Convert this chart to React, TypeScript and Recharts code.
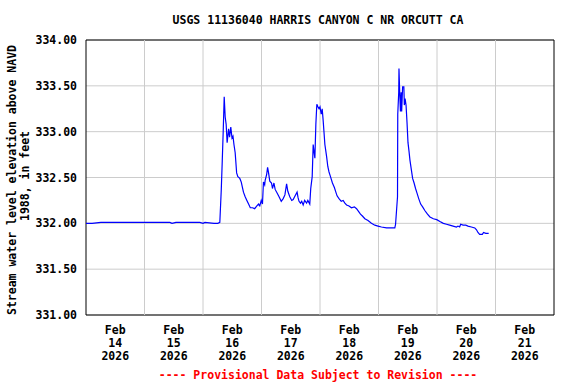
import React from 'react';
import { LineChart, Line, XAxis, YAxis, CartesianGrid, ReferenceLine, ReferenceArea } from 'recharts';

// hours since 2026-02-14 00:00
const hours = [
  0, 2.5, 6.1, 34.4, 35.3, 36.9, 46.7, 48.0, 48.8, 52.5, 54.1, 54.9,
  55.5, 55.9, 56.3, 56.7, 57.1, 57.5, 57.9, 58.5, 58.9, 59.4, 59.9, 60.3, 60.7, 61.2, 61.8, 62.3,
  63.1, 63.7, 64.1, 64.6, 65.3, 66.0, 66.7, 67.4, 68.3, 69.2, 70.1, 70.8, 71.3, 71.9, 72.4, 72.8,
  73.3, 73.5, 74.1, 74.5, 74.9, 75.4, 76.1, 76.5, 77.1, 77.6, 78.4, 79.2, 80.1, 80.9, 81.6, 82.3,
  82.8, 83.6, 84.4, 85.0, 85.8, 86.6, 87.0, 87.4, 88.0, 88.5, 89.1, 89.7, 90.5, 91.0, 91.8, 92.2,
  92.8, 93.2, 93.6, 93.9, 94.3, 94.7, 95.2, 95.6, 96.0, 96.5, 96.9, 97.3, 97.6, 98.0, 98.7, 99.2,
  99.7, 100.3, 101.1, 101.9, 102.5, 103.0, 103.8, 104.7, 105.5, 106.2, 106.9, 107.9, 108.9, 110.1,
  111.0, 111.8, 112.6, 113.4, 114.4, 115.7, 117.1, 118.5, 119.8, 121.2, 123.3, 124.6, 126.7, 127.0,
  127.4, 127.8, 127.9, 128.3, 128.4, 128.7, 129.0, 129.3, 129.5, 129.9, 130.4, 130.6, 130.9, 131.3,
  131.7, 132.1, 132.5, 132.9, 133.5, 134.0, 134.6, 135.2, 135.8, 136.5, 137.3, 138.1, 139.0, 140.1,
  141.1, 142.5, 143.9, 145.2, 146.6, 147.9, 149.2, 150.6, 152.0, 152.6, 153.3, 153.7, 154.7, 155.8,
  156.7, 158.1, 159.5, 160.2, 160.8, 161.5, 162.6, 163.1, 164.0, 165.2,
];

// stream water level elevation, ft NAVD 1988
const stage = [
  332.0, 332.0, 332.01, 332.01, 332.0, 332.01, 332.01, 332.0, 332.01, 332.0, 332.0, 332.01,
  332.37, 332.68, 333.01, 333.38, 333.16, 333.08, 332.88, 333.03, 332.94, 333.05, 332.93, 332.95, 332.86, 332.77, 332.55, 332.51,
  332.49, 332.45, 332.4, 332.34, 332.29, 332.25, 332.21, 332.17, 332.17, 332.16, 332.19, 332.21, 332.19, 332.25, 332.21, 332.45,
  332.42, 332.47, 332.53, 332.61, 332.55, 332.46, 332.44, 332.38, 332.44, 332.37, 332.33, 332.29, 332.24, 332.27, 332.31, 332.43,
  332.35, 332.29, 332.25, 332.26, 332.3, 332.34, 332.28, 332.24, 332.22, 332.24, 332.2, 332.25, 332.22, 332.25, 332.21, 332.38,
  332.51, 332.86, 332.77, 332.71, 333.08, 333.3, 333.27, 333.25, 333.27, 333.19, 333.25, 333.12, 333.01, 332.86, 332.73, 332.62,
  332.56, 332.51, 332.44, 332.39, 332.34, 332.3, 332.27, 332.24, 332.25, 332.22, 332.2, 332.19, 332.17, 332.18,
  332.16, 332.13, 332.1, 332.08, 332.05, 332.03, 332.0, 331.98, 331.97, 331.96, 331.95, 331.95, 331.95, 331.99,
  332.14, 332.29, 333.19, 333.43, 333.69, 333.43, 333.22, 333.43, 333.22, 333.49, 333.49, 333.29, 333.36, 333.29,
  333.1, 332.88, 332.79, 332.69, 332.58, 332.49, 332.44, 332.38, 332.33, 332.27, 332.21, 332.18, 332.14, 332.1,
  332.07, 332.05, 332.04, 332.02, 332.0, 331.99, 331.98, 331.97, 331.96, 331.97, 331.96, 331.99, 331.98, 331.98,
  331.97, 331.96, 331.95, 331.93, 331.9, 331.88, 331.88, 331.9, 331.89, 331.89,
];

const yTicks = [331, 331.5, 332, 332.5, 333, 333.5, 334];
const dayLines = [1, 2, 3, 4, 5, 6, 7];
const tickDays = [0.5, 1.5, 2.5, 3.5, 4.5, 5.5, 6.5, 7.5];
const tickLabels = [
  ['Feb', '14', '2026'], ['Feb', '15', '2026'], ['Feb', '16', '2026'], ['Feb', '17', '2026'],
  ['Feb', '18', '2026'], ['Feb', '19', '2026'], ['Feb', '20', '2026'], ['Feb', '21', '2026'],
];

const FONT = '"DejaVu Sans Mono", monospace';

const data = hours.map((h, i) => ({ day: h / 24, stage: stage[i] }));

function DateTick({ x, y, payload }: any) {
  const idx = tickDays.indexOf(payload.value);
  const lines = tickLabels[idx] || [];
  return (
    <text x={x} y={y} textAnchor="middle" fontFamily={FONT} fontWeight="bold" fontSize={11.5} fill="#000">
      {lines.map((t, i) => (
        <tspan key={i} x={x} y={y + 11 + i * 13}>{t}</tspan>
      ))}
    </text>
  );
}

export default function App() {
  return (
    <div style={{ position: 'absolute', left: 0, top: 0, width: 576, height: 384, background: '#fff' }}>
      <div style={{
        position: 'absolute', left: 0, width: 636, top: 12, textAlign: 'center',
        fontFamily: FONT, fontWeight: 'bold', fontSize: 11.5, lineHeight: '16px',
      }}>
        USGS 11136040 HARRIS CANYON C NR ORCUTT CA
      </div>
      <LineChart width={576} height={384} data={data} margin={{ top: 40, right: 22, left: 0, bottom: 0 }}>
        <CartesianGrid vertical={false} stroke="#cccccc" strokeWidth={1} />
        {dayLines.map((d) => (
          <ReferenceLine key={d} x={d} stroke="#cccccc" strokeWidth={1} />
        ))}
        <XAxis
          dataKey="day" type="number" domain={[0, 8]} ticks={tickDays} height={69}
          axisLine={false} tickLine={false} tick={<DateTick />} interval={0} allowDataOverflow
        />
        <YAxis
          type="number" domain={[331, 334]} ticks={yTicks} width={86} interval={0}
          axisLine={false} tickLine={false} tickMargin={9} tickSize={0}
          tickFormatter={(v: number) => v.toFixed(2)}
          tick={{ fontFamily: FONT, fontWeight: 'bold', fontSize: 11.5, fill: '#000' }}
        />
        <Line
          type="linear" dataKey="stage" stroke="#0000ff" strokeWidth={1.2}
          dot={false} isAnimationActive={false}
        />
        <ReferenceArea x1={0} x2={8} y1={331} y2={334} fill="none" stroke="#000" strokeWidth={1} fillOpacity={0} />
      </LineChart>
      <div style={{
        position: 'absolute', left: 12 - 140, top: 181 - 8, width: 280, textAlign: 'center',
        transform: 'rotate(-90deg)', fontFamily: FONT, fontWeight: 'bold', fontSize: 11.5, lineHeight: '14px',
      }}>
        Stream water level elevation above NAVD
      </div>
      <div style={{
        position: 'absolute', left: 25 - 140, top: 177 - 8, width: 280, textAlign: 'center',
        transform: 'rotate(-90deg)', fontFamily: FONT, fontWeight: 'bold', fontSize: 11.5, lineHeight: '14px',
      }}>
        1988, in feet
      </div>
      <div style={{
        position: 'absolute', left: 0, width: 636, top: 367, textAlign: 'center', color: '#ff0000',
        fontFamily: FONT, fontWeight: 'bold', fontSize: 11.5, lineHeight: '16px',
      }}>
        ---- Provisional Data Subject to Revision ----
      </div>
    </div>
  );
}
